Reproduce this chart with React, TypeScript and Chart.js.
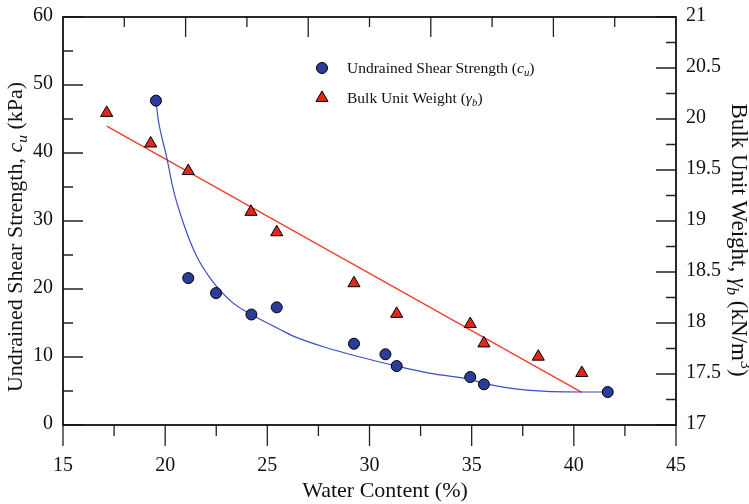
import { useEffect, useRef } from 'react';
import { Chart, registerables } from 'chart.js';

Chart.register(...registerables);

// ---- data ----
const cuWater = [19.55, 21.13, 22.49, 24.22, 25.46, 29.24, 30.78, 31.33, 34.93, 35.6, 41.66];
const cuValues = [47.7, 21.6, 19.4, 16.25, 17.3, 11.95, 10.4, 8.67, 7.05, 5.98, 4.85];

const gammaWater = [17.14, 19.29, 21.13, 24.2, 25.46, 29.24, 31.33, 34.93, 35.6, 38.26, 40.39];
const gammaValues = [20.06, 19.76, 19.49, 19.09, 18.89, 18.39, 18.09, 17.99, 17.8, 17.67, 17.51];

const cuFitWater = [19.55, 19.66, 19.83, 20.08, 20.4, 20.89, 21.54, 22.3, 23.3, 24.22, 25.62, 26.27, 27.9, 29.54, 31.33, 33.0, 34.93, 35.6, 37.7, 40.39, 41.66];
const cuFitValues = [47.7, 44.9, 42.4, 39.3, 34.6, 29.7, 24.8, 21.2, 18.0, 16.25, 14.05, 13.07, 11.36, 10.0, 8.67, 7.6, 6.71, 6.12, 5.14, 4.85, 4.85];

const gammaFitWater = [17.14, 40.39];
const gammaFitValues = [19.93, 17.32];

const xTickValues = [15, 20, 25, 30, 35, 40, 45];
const xMinorTicks = [17.5, 22.5, 27.5, 32.5, 37.5, 42.5];
const xTopTicks = [18, 21, 24, 27, 30, 33, 36, 39, 42];
const yLeftTicks = [0, 10, 20, 30, 40, 50, 60];
const yLeftMinor = [5, 15, 25, 35, 45, 55];
const yRightTicks = [17, 17.5, 18, 18.5, 19, 19.5, 20, 20.5, 21];
const yRightMinor = [17.25, 17.75, 18.25, 18.75, 19.25, 19.75, 20.25, 20.75];

const BLUE_FILL = '#2b3d9b';
const BLUE_LINE = '#3b4fc2';
const RED_FILL = '#e0271c';
const RED_LINE = '#ee3b2b';
const FAMILY = '"Liberation Serif", "Times New Roman", serif';

type Part = { t: string; i?: boolean; s?: 'sub' | 'sup' };

function partFont(p: Part, size: number) {
  const sz = p.s ? size * 0.7 : size;
  return `${p.i ? 'italic ' : ''}${sz}px ${FAMILY}`;
}

function richWidth(ctx: CanvasRenderingContext2D, parts: Part[], size: number) {
  let w = 0;
  for (const p of parts) {
    ctx.font = partFont(p, size);
    w += ctx.measureText(p.t).width;
  }
  return w;
}

function drawRich(ctx: CanvasRenderingContext2D, parts: Part[], x: number, y: number, size: number, align: 'left' | 'center') {
  ctx.textBaseline = 'alphabetic';
  ctx.textAlign = 'left';
  ctx.fillStyle = '#111';
  const w = richWidth(ctx, parts, size);
  let cx = align === 'center' ? x - w / 2 : x;
  for (const p of parts) {
    ctx.font = partFont(p, size);
    const dy = p.s === 'sub' ? size * 0.22 : p.s === 'sup' ? -size * 0.38 : 0;
    ctx.fillText(p.t, cx, y + dy);
    cx += ctx.measureText(p.t).width;
  }
}

const leftTitle: Part[] = [
  { t: 'Undrained Shear Strength, ' },
  { t: 'c', i: true },
  { t: 'u', i: true, s: 'sub' },
  { t: ' (kPa)' },
];
const rightTitle: Part[] = [
  { t: 'Bulk Unit Weight, ' },
  { t: 'γ', i: true },
  { t: 'b', i: true, s: 'sub' },
  { t: ' (kN/m' },
  { t: '3', s: 'sup' },
  { t: ')' },
];
const bottomTitle: Part[] = [{ t: 'Water Content (%)' }];
const legendCu: Part[] = [
  { t: 'Undrained Shear Strength (' },
  { t: 'c', i: true },
  { t: 'u', i: true, s: 'sub' },
  { t: ')' },
];
const legendGamma: Part[] = [
  { t: 'Bulk Unit Weight (' },
  { t: 'γ', i: true },
  { t: 'b', i: true, s: 'sub' },
  { t: ')' },
];

const framePlugin = {
  id: 'frameTicks',
  afterDraw(chart: any) {
    const ctx: CanvasRenderingContext2D = chart.ctx;
    const { left, right, top, bottom } = chart.chartArea;
    const xs = chart.scales.x;
    const yl = chart.scales.y;
    const yr = chart.scales.y1;
    ctx.save();
    ctx.strokeStyle = '#222';
    ctx.lineWidth = 1.3;
    ctx.beginPath();
    for (const v of xTickValues) {
      const px = xs.getPixelForValue(v);
      ctx.moveTo(px, bottom);
      ctx.lineTo(px, bottom + 21);
    }
    for (const v of xMinorTicks) {
      const px = xs.getPixelForValue(v);
      ctx.moveTo(px, bottom);
      ctx.lineTo(px, bottom + 11);
    }
    xTopTicks.forEach((v, k) => {
      const px = xs.getPixelForValue(v);
      ctx.moveTo(px, top);
      ctx.lineTo(px, top + (k % 2 === 1 ? 20 : 10));
    });
    for (const v of yLeftTicks) {
      const py = yl.getPixelForValue(v);
      ctx.moveTo(left, py);
      ctx.lineTo(left + 20, py);
    }
    for (const v of yLeftMinor) {
      const py = yl.getPixelForValue(v);
      ctx.moveTo(left, py);
      ctx.lineTo(left + 10, py);
    }
    for (const v of yRightTicks) {
      const py = yr.getPixelForValue(v);
      ctx.moveTo(right, py);
      ctx.lineTo(right - 20, py);
    }
    for (const v of yRightMinor) {
      const py = yr.getPixelForValue(v);
      ctx.moveTo(right, py);
      ctx.lineTo(right - 10, py);
    }
    ctx.stroke();

    ctx.strokeStyle = '#111';
    ctx.lineWidth = 1.8;
    ctx.strokeRect(left, top, right - left, bottom - top);

    const TS = 22;
    drawRich(ctx, bottomTitle, 385, 497, TS, 'center');
    ctx.save();
    ctx.translate(22, 237);
    ctx.rotate(-Math.PI / 2);
    drawRich(ctx, leftTitle, 0, 0, TS, 'center');
    ctx.restore();
    ctx.save();
    ctx.translate(732, 240);
    ctx.rotate(Math.PI / 2);
    drawRich(ctx, rightTitle, 0, 0, 23, 'center');
    ctx.restore();

    const LS = 15.5;
    ctx.lineWidth = 1;
    ctx.strokeStyle = '#000';
    ctx.fillStyle = BLUE_FILL;
    ctx.beginPath();
    ctx.arc(322, 68, 5.5, 0, Math.PI * 2);
    ctx.fill();
    ctx.stroke();
    ctx.fillStyle = RED_FILL;
    ctx.beginPath();
    const r = 7;
    ctx.moveTo(322, 98 - r);
    ctx.lineTo(322 + r * Math.sin(Math.PI / 3), 98 + r * 0.5);
    ctx.lineTo(322 - r * Math.sin(Math.PI / 3), 98 + r * 0.5);
    ctx.closePath();
    ctx.fill();
    ctx.stroke();
    drawRich(ctx, legendCu, 347, 73, LS, 'left');
    drawRich(ctx, legendGamma, 347, 103, LS, 'left');
    ctx.restore();
  },
};

export default function App() {
  const ref = useRef<HTMLCanvasElement | null>(null);

  useEffect(() => {
    if (!ref.current) return;
    Chart.defaults.font.family = FAMILY;
    const tickFont = { family: FAMILY, size: 20 };
    const chart = new Chart(ref.current, {
      type: 'scatter',
      data: {
        datasets: [
          {
            label: 'Undrained Shear Strength',
            data: cuWater.map((x, i) => ({ x, y: cuValues[i] })),
            yAxisID: 'y',
            pointStyle: 'circle',
            pointRadius: 5.5,
            backgroundColor: BLUE_FILL,
            borderColor: '#000',
            borderWidth: 1,
            showLine: false,
            order: 0,
          },
          {
            label: 'Bulk Unit Weight',
            data: gammaWater.map((x, i) => ({ x, y: gammaValues[i] })),
            yAxisID: 'y1',
            pointStyle: 'triangle',
            pointRadius: 7,
            backgroundColor: RED_FILL,
            borderColor: '#000',
            borderWidth: 1,
            showLine: false,
            order: 0,
          },
          {
            label: 'cu fit',
            data: cuFitWater.map((x, i) => ({ x, y: cuFitValues[i] })),
            yAxisID: 'y',
            showLine: true,
            pointRadius: 0,
            borderColor: BLUE_LINE,
            borderWidth: 1.2,
            cubicInterpolationMode: 'monotone',
            order: 1,
          } as any,
          {
            label: 'gamma fit',
            data: gammaFitWater.map((x, i) => ({ x, y: gammaFitValues[i] })),
            yAxisID: 'y1',
            showLine: true,
            pointRadius: 0,
            borderColor: RED_LINE,
            borderWidth: 1.2,
            order: 1,
          },
        ],
      },
      options: {
        responsive: false,
        animation: false,
        layout: { padding: { top: 17, left: 0, right: 0, bottom: 0 } },
        plugins: { legend: { display: false }, tooltip: { enabled: false } },
        scales: {
          x: {
            type: 'linear',
            position: 'bottom',
            min: 15,
            max: 45,
            afterBuildTicks: (s: any) => { s.ticks = xTickValues.map((v) => ({ value: v })); },
            ticks: { font: tickFont, color: '#111', padding: 29 },
            grid: { display: false, drawTicks: false },
            border: { display: false },
            afterFit: (s: any) => { s.height = 79; s.paddingLeft = 0; s.paddingRight = 0; },
          },
          y: {
            type: 'linear',
            position: 'left',
            min: 0,
            max: 60,
            afterBuildTicks: (s: any) => { s.ticks = yLeftTicks.map((v) => ({ value: v })); },
            ticks: { font: tickFont, color: '#111', padding: 10, labelOffset: -1 },
            grid: { display: false, drawTicks: false },
            border: { display: false },
            afterFit: (s: any) => { s.width = 63; s.paddingTop = 0; s.paddingBottom = 0; },
          },
          y1: {
            type: 'linear',
            position: 'right',
            min: 17,
            max: 21,
            afterBuildTicks: (s: any) => { s.ticks = yRightTicks.map((v) => ({ value: v })); },
            ticks: {
              font: tickFont,
              color: '#111',
              padding: 10,
              labelOffset: -1,
              callback: (v: any) => String(v),
            },
            grid: { display: false, drawTicks: false },
            border: { display: false },
            afterFit: (s: any) => { s.width = 73; s.paddingTop = 0; s.paddingBottom = 0; },
          },
        },
      },
      plugins: [framePlugin],
    });
    return () => chart.destroy();
  }, []);

  return (
    <div style={{ position: 'absolute', left: 0, top: 0, width: 749, height: 504, background: '#fff' }}>
      <canvas ref={ref} width={749} height={504} />
    </div>
  );
}
